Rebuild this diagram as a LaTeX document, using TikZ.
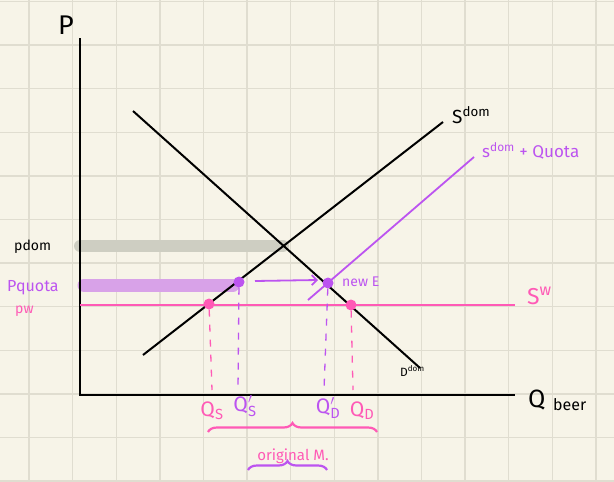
\documentclass[tikz,border=0pt]{standalone}
\usepackage{fontspec}
\setmainfont{Fira Sans}
\usetikzlibrary{decorations.pathreplacing,arrows.meta}
\definecolor{paper}{RGB}{247,244,232}
\definecolor{gridc}{RGB}{224,221,208}
\definecolor{pinkc}{RGB}{255,90,182}
\definecolor{purc}{RGB}{188,84,240}
\definecolor{purbar}{RGB}{216,162,232}
\definecolor{graybar}{RGB}{206,206,194}
\tikzset{
  curve/.style={line width=2pt},
  dotp/.style={circle,fill=pinkc,inner sep=0pt,minimum size=11pt},
  dotv/.style={circle,fill=purc,inner sep=0pt,minimum size=11pt},
  lab/.style={inner sep=0pt,font=\fontsize{14}{14}\selectfont},
  qlab/.style={inner sep=0pt,font=\fontsize{21}{21}\selectfont},
  guide/.style={line width=1.3pt,dash pattern=on 7pt off 8pt}
}
\begin{document}
\begin{tikzpicture}[x=1pt,y=-1pt]
\useasboundingbox (0,0) rectangle (614,482);
\clip (0,0) rectangle (614,482);
\fill[paper] (0,0) rectangle (614,482);
\foreach \i in {0,...,13} \draw[gridc,line width=1.4pt] (29+43.6*\i,0) -- (29+43.6*\i,482);
\foreach \i in {0,...,11} \draw[gridc,line width=1.4pt] (0,1.4+43.6*\i) -- (614,1.4+43.6*\i);
% bars
\coordinate (gb0) at (80,246);
\coordinate (gb1) at (283,246);
\draw[graybar,line width=12pt,line cap=round] (gb0) -- (gb1);
\coordinate (pb0) at (84,285);
\coordinate (pb1) at (233,285);
\draw[purbar,line width=13pt,line cap=round] (pb0) -- (pb1);
% axes
\coordinate (O) at (80,395);
\coordinate (ytop) at (80,38);
\coordinate (xend) at (515,395);
\draw[line width=2.2pt] (ytop) -- (O) -- (xend);
% world supply
\coordinate (sw0) at (80,305);
\coordinate (sw1) at (515,305);
\draw[pinkc,line width=2pt] (sw0) -- (sw1);
% demand & supply
\coordinate (d0) at (133,111);
\coordinate (d1) at (420,368);
\draw[curve] (d0) -- (d1);
\coordinate (s0) at (143,355);
\coordinate (s1) at (443,122);
\draw[curve] (s0) -- (s1);
\coordinate (sq0) at (308,300);
\coordinate (sq1) at (474,157);
\draw[purc,line width=1.8pt] (sq0) -- (sq1);
% dots
\node[dotp] (qs) at (209,304) {};
\node[dotp] (qd) at (351,305) {};
\node[dotv] (qsp) at (239,282) {};
\node[dotv] (qdp) at (328,283) {};
% arrow
\coordinate (a0) at (255,281);
\coordinate (a1) at (318,280);
\draw[purc,line width=1.8pt,-{Straight Barb[length=5pt,width=10pt]}] (a0) -- (a1);
% guides
\coordinate (gqs) at (212,390);
\coordinate (gqsp) at (238,390);
\coordinate (gqdp) at (324,390);
\coordinate (gqd) at (353,390);
\draw[guide,pinkc] (qs) -- (gqs);
\draw[guide,purc] (qsp) -- (gqsp);
\draw[guide,purc] (qdp) -- (gqdp);
\draw[guide,pinkc] (qd) -- (gqd);
% labels
\node[inner sep=0pt,font=\fontsize{27}{27}\selectfont] (P) at (66,25) {P};
\node[inner sep=0pt,anchor=west,font=\fontsize{25}{25}\selectfont] (Q) at (528,400) {Q};
\node[inner sep=0pt,anchor=west,font=\fontsize{16}{16}\selectfont] (beer) at (553,405) {beer};
\node[inner sep=0pt,anchor=west,font=\fontsize{19}{19}\selectfont] (Sdom) at (452,115) {S$^{\mathrm{dom}}$};
\node[inner sep=0pt,anchor=west,font=\fontsize{12}{12}\selectfont] (Ddom) at (400,371) {D$^{\mathrm{dom}}$};
\node[inner sep=0pt,anchor=west,purc,font=\fontsize{17}{17}\selectfont] (Sq) at (482,151) {s$^{\mathrm{dom}}$ + Quota};
\node[inner sep=0pt,anchor=west,pinkc,font=\fontsize{23}{23}\selectfont] (Sw) at (527,296) {S$^{\mathrm{w}}$};
\node[lab,anchor=west] (pdom) at (14,247) {pdom};
\node[lab,anchor=west,purc,font=\fontsize{16}{16}\selectfont] (pq) at (7,288) {Pquota};
\node[lab,anchor=west,pinkc] (pw) at (15,311) {pw};
\node[lab,anchor=west,purc] (newE) at (342,282) {new E};
\node[qlab,pinkc] (QS) at (212,411) {Q$_{\mathrm{S}}$};
\node[qlab,purc] (QSp) at (245,406) {Q$'_{\mathrm{S}}$};
\node[qlab,purc] (QDp) at (328,408) {Q$'_{\mathrm{D}}$};
\node[qlab,pinkc] (QD) at (362,411) {Q$_{\mathrm{D}}$};
% braces
\coordinate (b0) at (208,432);
\coordinate (b1) at (377,432);
\draw[pinkc,line width=2.2pt,decorate,decoration={brace,mirror,amplitude=9pt}] (b1) -- (b0);
\node[lab,pinkc,font=\fontsize{15}{15}\selectfont] (orig) at (293,456) {original M.};
\coordinate (c0) at (248,470);
\coordinate (c1) at (327,470);
\draw[purc,line width=2.2pt,decorate,decoration={brace,mirror,amplitude=9pt}] (c1) -- (c0);
\end{tikzpicture}
\end{document}
